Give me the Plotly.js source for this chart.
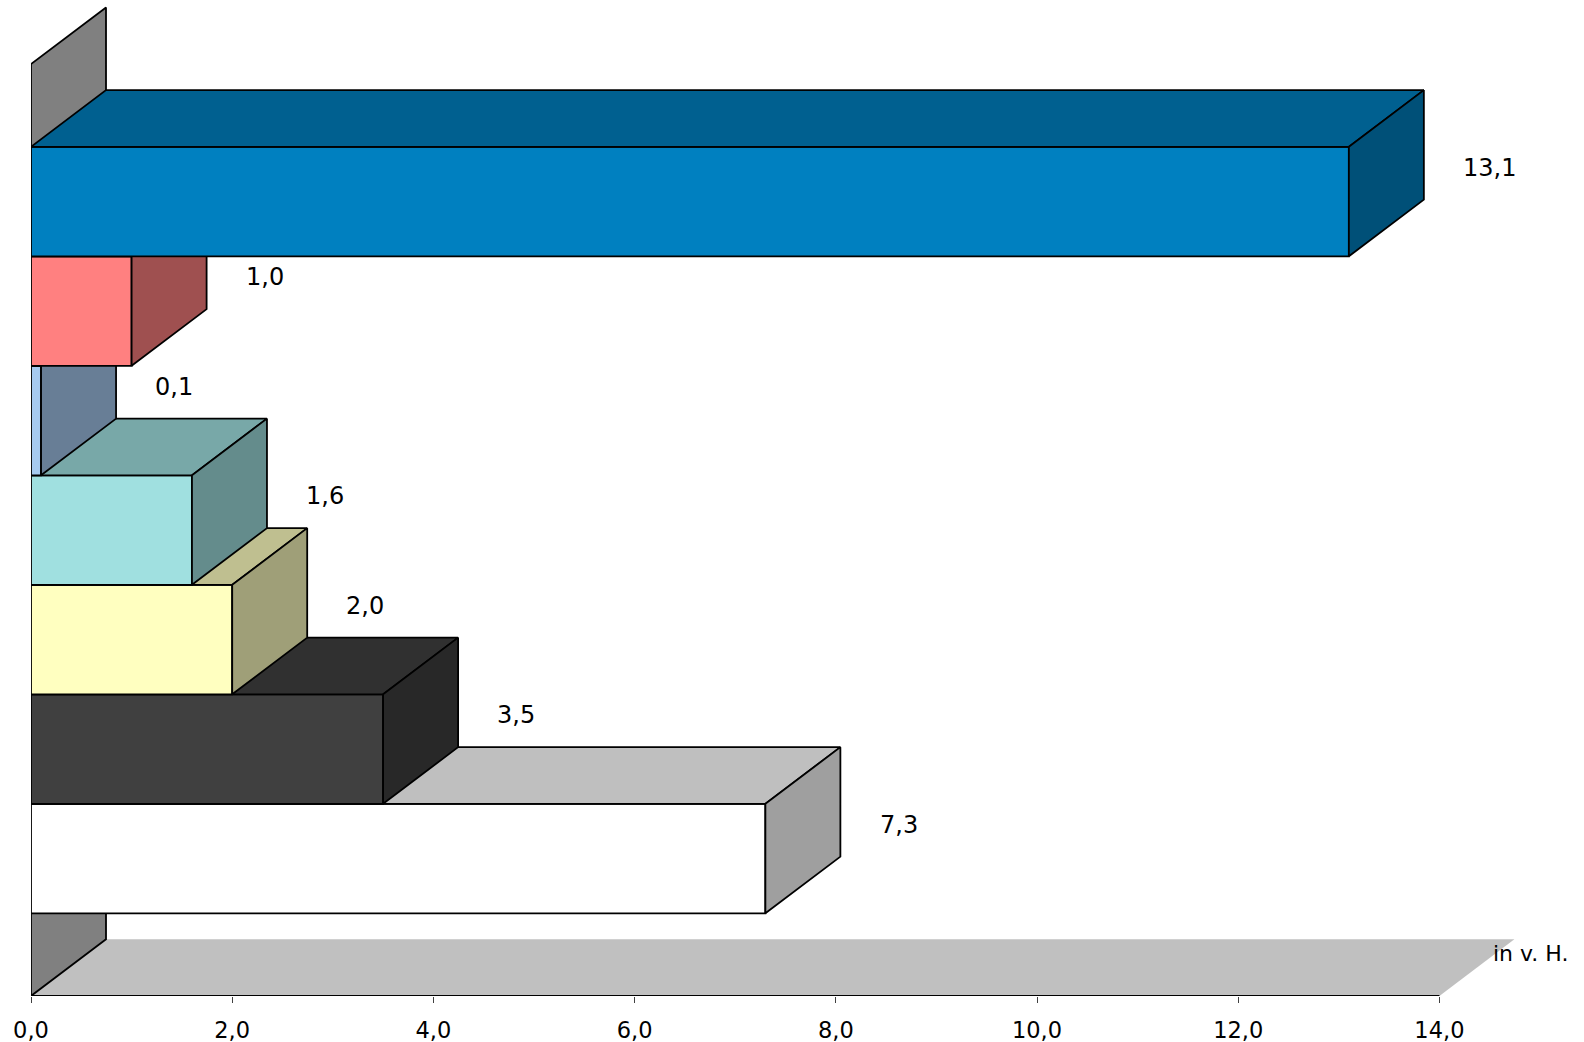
<!DOCTYPE html>
<html>
<head>
<meta charset="utf-8">
<script src="https://cdn.plot.ly/plotly-3.0.1.min.js"></script>
<style>html,body{margin:0;padding:0;background:#fff;}#chart{width:1584px;height:1042px;}</style>
</head>
<body>
<div id="chart"></div>
<script>
// ---- data (listed top bar to bottom bar) ----
const values = [13.1, 1.0, 0.1, 1.6, 2.0, 3.5, 7.3];
const barColors = ['#0080C0', '#FF8080', '#A6CAF0', '#A0E0E0', '#FFFFC0', '#404040', '#FFFFFF'];
const xTickVals = [0, 2, 4, 6, 8, 10, 12, 14];
const xTickText = ['0,0', '2,0', '4,0', '6,0', '8,0', '10,0', '12,0', '14,0'];
const unitLabel = 'in v. H.';

// ---- 3D geometry constants (axis units) ----
const W = 1584, H = 1042;
const M = {l: 31, r: 0, t: 0, b: 46};
const PX_X = 100.6;          // px per x unit
const PX_Y = 109.5;          // px per bar band
const DEPTH_X = 75 / PX_X;   // depth offset in x units
const DEPTH_Y = 56.7 / PX_Y; // depth offset in y units
const GAP = 0.755;           // space between wall edge and first/last bar
const n = values.length;
const xMax = xTickVals[xTickVals.length - 1];

const yMin = -GAP;
const yMax = yMin + (H - M.t - M.b) / PX_Y;
const xRangeMax = (W - M.l - M.r) / PX_X;

function shade(hex, f) {
  const r = parseInt(hex.slice(1, 3), 16), g = parseInt(hex.slice(3, 5), 16), b = parseInt(hex.slice(5, 7), 16);
  return 'rgb(' + Math.round(r * f) + ',' + Math.round(g * f) + ',' + Math.round(b * f) + ')';
}
function poly(xs, ys, fill, lineW) {
  return {
    type: 'scatter', mode: 'lines', x: xs.concat([xs[0]]), y: ys.concat([ys[0]]),
    fill: 'toself', fillcolor: fill,
    line: {color: lineW > 0 ? '#000000' : fill, width: lineW > 0 ? lineW : 0},
    hoverinfo: 'skip', showlegend: false
  };
}

const traces = [];
const wallTop = n + GAP;
// floor
traces.push(poly([0, xMax, xMax + DEPTH_X, DEPTH_X],
                 [yMin, yMin, yMin + DEPTH_Y, yMin + DEPTH_Y], '#C0C0C0', 0));
// left wall
traces.push(poly([0, DEPTH_X, DEPTH_X, 0],
                 [yMin, yMin + DEPTH_Y, wallTop + DEPTH_Y, wallTop], '#808080', 1.8));
// axis line along the floor front edge
traces.push({type: 'scatter', mode: 'lines', x: [0, xMax], y: [yMin, yMin],
             line: {color: '#000000', width: 2.2}, hoverinfo: 'skip', showlegend: false});

// bars, drawn from the bottom one upward
const annotations = [];
for (let k = n - 1; k >= 0; k--) {
  const i = n - 1 - k;      // band index from the bottom
  const v = values[k];
  const c = barColors[k];
  // front face
  traces.push(poly([0, v, v, 0], [i, i, i + 1, i + 1], c, 1.8));
  // top face
  traces.push(poly([0, v, v + DEPTH_X, DEPTH_X],
                   [i + 1, i + 1, i + 1 + DEPTH_Y, i + 1 + DEPTH_Y], shade(c, 0.75), 1.8));
  // right side face
  traces.push(poly([v, v + DEPTH_X, v + DEPTH_X, v],
                   [i, i + DEPTH_Y, i + 1 + DEPTH_Y, i + 1], shade(c, 0.625), 1.8));
  annotations.push({
    x: v + DEPTH_X + 0.37, y: i + 0.5 + DEPTH_Y * 0.6, xref: 'x', yref: 'y',
    text: v.toFixed(1).replace('.', ','), showarrow: false, xanchor: 'left', yanchor: 'middle',
    font: {family: 'DejaVu Sans', size: 24, color: '#000000'}
  });
}
annotations.push({
  x: xMax + 0.51, y: yMin + 0.385, xref: 'x', yref: 'y', text: unitLabel, showarrow: false,
  xanchor: 'left', yanchor: 'middle', font: {family: 'DejaVu Sans', size: 22, color: '#000000'}
});

const layout = {
  width: W, height: H,
  margin: M,
  paper_bgcolor: '#ffffff', plot_bgcolor: '#ffffff',
  showlegend: false,
  xaxis: {
    range: [0, xRangeMax], tickmode: 'array', tickvals: xTickVals, ticktext: xTickText,
    ticks: 'outside', ticklen: 6, tickwidth: 1, tickcolor: '#404040',
    showgrid: false, zeroline: false, showline: false, fixedrange: true,
    ticklabelstandoff: 8,
    tickfont: {family: 'DejaVu Sans', size: 22.5, color: '#000000'}
  },
  yaxis: {
    range: [yMin, yMax], showgrid: false, zeroline: false, showline: false,
    showticklabels: false, ticks: '', fixedrange: true
  },
  annotations: annotations
};

Plotly.newPlot('chart', traces, layout, {staticPlot: true, displayModeBar: false});
</script>
</body>
</html>
